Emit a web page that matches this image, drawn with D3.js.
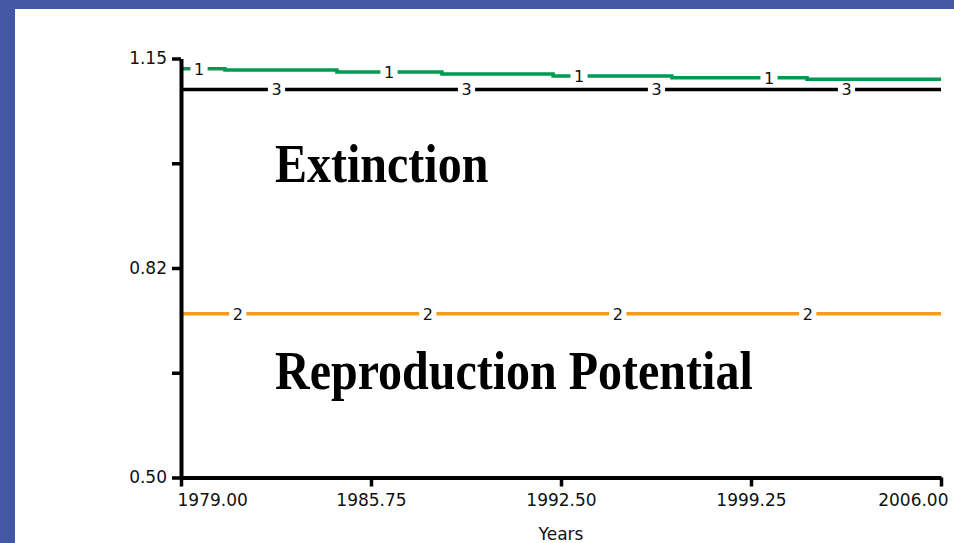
<!DOCTYPE html>
<html>
<head>
<meta charset="utf-8">
<script src="https://cdn.jsdelivr.net/npm/d3@7"></script>
<style>
  html, body { margin: 0; padding: 0; background: #fff; }
  svg { display: block; }
</style>
</head>
<body>
<svg id="chart" width="954" height="543"></svg>
<script>
// data
const yearTicks = [1979, 1985.75, 1992.5, 1999.25, 2006];
const valueTicks = [0.5, 0.6625, 0.825, 0.9875, 1.15];
const valueTickLabels = ["0.50", "", "0.82", "", "1.15"];

// series 1 is a step line, the others are flat
const s1Years = [1979, 1980.56, 1984.54, 1988.27, 1992.22, 1996.44, 2001.24, 2006];
const s1Values = [1.134, 1.132, 1.129, 1.126, 1.123, 1.12, 1.118, 1.118];
const s2Years = [1979, 2006];
const s2Values = [0.754, 0.754];
const s3Years = [1979, 2006];
const s3Values = [1.102, 1.102];

const seriesNames = ["1", "2", "3"];
const seriesColors = ["#009a50", "#f89c18", "#000000"];

const svg = d3.select("#chart");
const width = +svg.attr("width");
const height = +svg.attr("height");

// blue frame on top and left
svg.append("rect").attr("x", 0).attr("y", 0).attr("width", width).attr("height", 9).attr("fill", "#4357a6");
svg.append("rect").attr("x", 0).attr("y", 0).attr("width", 15).attr("height", height).attr("fill", "#4357a6");

const plotLeft = 181, plotRight = 941, plotTop = 58.5, plotBottom = 477.5;

const x = d3.scaleLinear().domain([1979, 2006]).range([plotLeft, plotRight]);
const y = d3.scaleLinear().domain([0.5, 1.15]).range([plotBottom, plotTop]);

const series = [
  { name: seriesNames[0], color: seriesColors[0], pts: s1Years.map((yr, i) => [yr, s1Values[i]]) },
  { name: seriesNames[1], color: seriesColors[1], pts: s2Years.map((yr, i) => [yr, s2Values[i]]) },
  { name: seriesNames[2], color: seriesColors[2], pts: s3Years.map((yr, i) => [yr, s3Values[i]]) }
];

const line = d3.line()
  .x((d) => x(d[0]))
  .y((d) => y(d[1]))
  .curve(d3.curveStepAfter);

svg.selectAll("path.series")
  .data(series)
  .enter()
  .append("path")
  .attr("class", "series")
  .attr("fill", "none")
  .attr("stroke", (d) => d.color)
  .attr("stroke-width", 3.5)
  .attr("d", (d) => line(d.pts));

// value at a given year on a step series
function valueAt(pts, yr) {
  let v = pts[0][1];
  pts.forEach((p) => { if (p[0] <= yr) v = p[1]; });
  return v;
}

// numbered markers along each line, with white gap behind
const step = (2006 - 1979) / 4;
series.forEach((s, si) => {
  const offset = (18 + 38.75 * si) / (plotRight - plotLeft) * 27;
  for (let k = 0; k < 4; k++) {
    const yr = 1979 + offset + k * step;
    const g = svg.append("g").attr("transform", `translate(${x(yr)},${y(valueAt(s.pts, yr))})`);
    const rect = g.append("rect").attr("fill", "#fff");
    const t = g.append("text")
      .attr("text-anchor", "middle")
      .attr("dy", "0.36em")
      .attr("font-family", "DejaVu Sans")
      .attr("font-size", 16)
      .attr("fill", "#111")
      .text(s.name);
    const b = t.node().getBBox();
    rect.attr("x", b.x - 3.5).attr("y", -3).attr("width", b.width + 7).attr("height", 6);
  }
});

// axes
const yAxis = svg.append("g")
  .attr("transform", `translate(${plotLeft},0)`)
  .call(d3.axisLeft(y).tickValues(valueTicks).tickSize(9).tickSizeOuter(0).tickPadding(5)
    .tickFormat((d, i) => valueTickLabels[i]));

const xAxis = svg.append("g")
  .attr("transform", `translate(0,${plotBottom})`)
  .call(d3.axisBottom(x).tickValues(yearTicks).tickSize(9).tickSizeOuter(0).tickPadding(7)
    .tickFormat((d) => d.toFixed(2)));

[yAxis, xAxis].forEach((a) => {
  a.select(".domain").attr("stroke", "#000").attr("stroke-width", 4);
  a.selectAll(".tick line").attr("stroke", "#000").attr("stroke-width", 3.5);
  a.selectAll(".tick text")
    .attr("font-family", "DejaVu Sans")
    .attr("font-size", 17)
    .attr("fill", "#111");
});

// keep the end labels inside the plot width
xAxis.selectAll(".tick text")
  .filter((d) => d === 1979)
  .attr("text-anchor", "start")
  .attr("x", -4);
xAxis.selectAll(".tick text")
  .filter((d) => d === 2006)
  .attr("text-anchor", "end")
  .attr("x", 7);

svg.append("text")
  .attr("x", (plotLeft + plotRight) / 2)
  .attr("y", 540)
  .attr("text-anchor", "middle")
  .attr("font-family", "DejaVu Sans")
  .attr("font-size", 17)
  .attr("fill", "#111")
  .text("Years");

// annotations, slightly taller than the plain serif face
svg.append("text")
  .attr("transform", "translate(275,182) scale(1,1.15)")
  .attr("font-family", "Liberation Serif")
  .attr("font-weight", "bold")
  .attr("font-size", 48)
  .text("Extinction");

svg.append("text")
  .attr("transform", "translate(275,389) scale(1,1.15)")
  .attr("font-family", "Liberation Serif")
  .attr("font-weight", "bold")
  .attr("font-size", 48)
  .text("Reproduction Potential");
</script>
</body>
</html>
